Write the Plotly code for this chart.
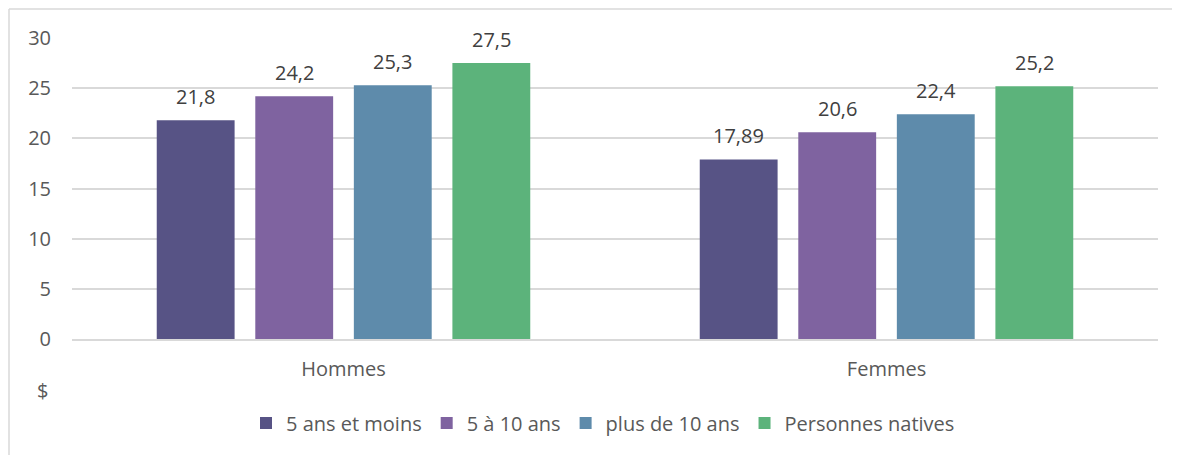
import plotly.graph_objects as go

categories = ["Hommes", "Femmes"]
series_names = ["5 ans et moins", "5 à 10 ans", "plus de 10 ans", "Personnes natives"]
values_5_moins = [21.8, 17.89]
values_5_10 = [24.2, 20.6]
values_plus_10 = [25.3, 22.4]
values_natives = [27.5, 25.2]
y_ticks = [0, 5, 10, 15, 20, 25, 30]

series_values = [values_5_moins, values_5_10, values_plus_10, values_natives]
colors = ["#575385", "#7F63A0", "#5E8BAB", "#5CB37B"]

FONT = "Open Sans"
FS = 20
fig = go.Figure()
for name, vals, col in zip(series_names, series_values, colors):
    fig.add_trace(go.Bar(
        x=categories, y=vals, name=name,
        marker=dict(color=col, line=dict(width=0)),
    ))

def fmt(v):
    return ("%g" % v).replace(".", ",")

annotations = []
step = 98.5
for i, vals in enumerate(series_values):
    for cat, v in zip(categories, vals):
        annotations.append(dict(
            x=cat, y=v, xref="x", yref="y", text=fmt(v), showarrow=False,
            xshift=(i - 1.5) * step, yshift=24, yanchor="middle",
            font=dict(family=FONT, size=FS, color="#404040"),
        ))

# "$" unit label
annotations.append(dict(
    x=(42 - 72) / 1086, y=(339 - 390) / 301, xref="paper", yref="paper",
    text="$", showarrow=False, xanchor="center", yanchor="middle",
    font=dict(family=FONT, size=FS, color="#595959"),
))

shapes = [
    dict(type="line", xref="paper", yref="paper",
         x0=(9 - 72) / 1086, x1=(1190 - 72) / 1086,
         y0=(339 - 9) / 301, y1=(339 - 9) / 301,
         line=dict(color="#d9d9d9", width=1.5)),
    dict(type="line", xref="paper", yref="paper",
         x0=(9 - 72) / 1086, x1=(9 - 72) / 1086,
         y0=(339 - 9) / 301, y1=(339 - 470) / 301,
         line=dict(color="#d9d9d9", width=1.5)),
]

fig.update_layout(
    width=1180, height=455,
    margin=dict(l=64, r=30, t=30, b=124),
    paper_bgcolor="white", plot_bgcolor="white",
    barmode="group", bargap=0.274, bargroupgap=0.21,
    font=dict(family=FONT, size=FS, color="#595959"),
    showlegend=True,
    legend=dict(orientation="h", x=(603 - 72) / 1086, xanchor="center", y=(339 - 423) / 301,
                yanchor="middle", font=dict(family=FONT, size=FS, color="#595959"),
                traceorder="normal"),
    annotations=annotations,
    shapes=shapes,
)
fig.update_yaxes(range=[0, 30], tickvals=y_ticks, showgrid=True, gridcolor="#d9d9d9",
                 gridwidth=1.5, zeroline=False, showline=False,
                 ticklabelstandoff=20, tickfont=dict(family=FONT, size=FS, color="#595959"))
fig.update_xaxes(showline=True, linecolor="#d9d9d9", linewidth=2, showgrid=False,
                 ticks="", ticklabelstandoff=11,
                 tickfont=dict(family=FONT, size=FS, color="#595959"))

fig.write_html("out.html")
